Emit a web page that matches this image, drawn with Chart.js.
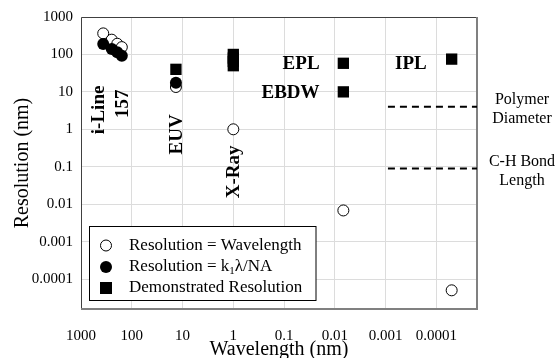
<!DOCTYPE html>
<html>
<head>
<meta charset="utf-8">
<script src="https://cdn.jsdelivr.net/npm/chart.js@4/dist/chart.umd.min.js"></script>
<style>
  html, body { margin: 0; padding: 0; background: #fff; }
  #wrap { width: 555px; height: 358px; position: relative; }
</style>
</head>
<body>
<div id="wrap"><canvas id="c"></canvas></div>
<script>
// Lithography: wavelength (nm) against resolution (nm), log-log
const seriesNames = [
  'Resolution = Wavelength',
  'Resolution = k1λ/NA',
  'Demonstrated Resolution'
];
const wavelengthEqual = [365, 248, 193, 157, 13.5, 1, 0.0068, 0.00005];
const resolutionEqual = [365, 248, 193, 157, 13.5, 1, 0.0068, 0.00005];
const wavelengthK1 = [365, 248, 193, 157, 13.5];
const resolutionK1 = [190, 140, 115, 92, 17.5];
const wavelengthDemo = [13.5, 1, 1, 1, 1, 0.0068, 0.0068, 0.00005];
const resolutionDemo = [40, 100, 80, 65, 50, 58, 10, 75];
const polymerX = [0.0009, 0.0000158];
const polymerY = [4, 4];
const bondX = [0.0009, 0.0000158];
const bondY = [0.09, 0.09];
const tickValues = [1000, 100, 10, 1, 0.1, 0.01, 0.001, 0.0001];
const tickLabels = ['1000', '100', '10', '1', '0.1', '0.01', '0.001', '0.0001'];

const SERIF = '"Liberation Serif", "Times New Roman", serif';
const axisMin = Math.pow(10, -4.8);
const axisMax = 1000;

const pts = (xs, ys) => xs.map((x, i) => ({ x: x, y: ys[i] }));

// Technique names placed in data coordinates
const techLabels = [
  { text: 'i-Line', x: 470, y: 3.3, rotate: true },
  { text: '157', x: 156, y: 4.8, rotate: true },
  { text: 'EUV', x: 13.5, y: 0.73, rotate: true },
  { text: 'X-Ray', x: 1, y: 0.073, rotate: true },
  { text: 'EPL', x: 0.02, y: 58, align: 'right' },
  { text: 'EBDW', x: 0.02, y: 10, align: 'right' },
  { text: 'IPL', x: 0.000155, y: 58, align: 'right' }
];
const sideNotes = [
  { lines: ['Polymer', 'Diameter'], y: 4 },
  { lines: ['C-H Bond', 'Length'], y: 0.09 }
];

const tickLabelFor = (v) => {
  const i = tickValues.findIndex(t => Math.abs(Math.log10(t) - Math.log10(v)) < 1e-6);
  return i >= 0 ? tickLabels[i] : '';
};

const decorations = {
  id: 'decorations',
  beforeDatasetsDraw(chart) {
    const { ctx, chartArea: a } = chart;
    ctx.save();
    ctx.lineCap = 'butt';
    ctx.strokeStyle = '#404040';
    ctx.lineWidth = 1;
    ctx.beginPath();
    ctx.moveTo(a.left + 0.5, a.bottom);
    ctx.lineTo(a.left + 0.5, a.top + 0.5);
    ctx.lineTo(a.right, a.top + 0.5);
    ctx.stroke();
    ctx.strokeStyle = '#808080';
    ctx.lineWidth = 2;
    ctx.beginPath();
    ctx.moveTo(a.left, a.bottom);
    ctx.lineTo(a.right, a.bottom);
    ctx.lineTo(a.right, a.top);
    ctx.stroke();
    ctx.restore();
  },
  afterDatasetsDraw(chart) {
    const { ctx, chartArea: a } = chart;
    const xs = chart.scales.x, ys = chart.scales.y;
    ctx.save();
    ctx.fillStyle = '#000';
    ctx.font = 'bold 19px ' + SERIF;
    techLabels.forEach(l => {
      const px = xs.getPixelForValue(l.x);
      const py = ys.getPixelForValue(l.y);
      ctx.save();
      ctx.translate(px, py);
      if (l.rotate) {
        ctx.rotate(-Math.PI / 2);
        ctx.textAlign = 'center';
      } else {
        ctx.textAlign = l.align || 'center';
      }
      ctx.textBaseline = 'middle';
      ctx.fillText(l.text, 0, 1);
      ctx.restore();
    });

    ctx.font = '16px ' + SERIF;
    ctx.textAlign = 'center';
    ctx.textBaseline = 'middle';
    sideNotes.forEach(n => {
      const py = ys.getPixelForValue(n.y);
      n.lines.forEach((t, i) => ctx.fillText(t, a.right + 45, py - 7 + i * 19));
    });

    // legend box in the lower-left corner of the plot
    const bx = a.left + 8.5, bw = 226.5, bh = 74;
    const by = a.bottom - 8.5 - bh;
    ctx.fillStyle = '#fff';
    ctx.fillRect(bx, by, bw, bh);
    ctx.strokeStyle = '#000';
    ctx.lineWidth = 1;
    ctx.strokeRect(bx, by, bw, bh);
    const mx = bx + 16.5, tx = bx + 39.5;
    const rowY = [by + 19, by + 40.5, by + 61.5];
    ctx.lineWidth = 1;
    ctx.beginPath(); ctx.arc(mx, rowY[0], 5.5, 0, Math.PI * 2);
    ctx.fillStyle = '#fff'; ctx.fill(); ctx.strokeStyle = '#000'; ctx.stroke();
    ctx.beginPath(); ctx.arc(mx, rowY[1], 6, 0, Math.PI * 2);
    ctx.fillStyle = '#000'; ctx.fill();
    ctx.fillRect(mx - 6, rowY[2] - 6, 12, 12);

    ctx.fillStyle = '#000';
    ctx.textAlign = 'left';
    ctx.textBaseline = 'middle';
    ctx.font = '17px ' + SERIF;
    ctx.fillText(seriesNames[0], tx, rowY[0]);
    // k with subscript 1
    const head = 'Resolution = k';
    ctx.fillText(head, tx, rowY[1]);
    let cx = tx + ctx.measureText(head).width;
    ctx.font = '11px ' + SERIF;
    ctx.fillText('1', cx, rowY[1] + 4);
    cx += ctx.measureText('1').width;
    ctx.font = '17px ' + SERIF;
    ctx.fillText('λ/NA', cx, rowY[1]);
    ctx.fillText(seriesNames[2], tx, rowY[2]);
    ctx.restore();
  }
};

const gridColor = '#dcdcdc';

new Chart(document.getElementById('c'), {
  type: 'scatter',
  data: {
    datasets: [
      {
        label: seriesNames[2],
        data: pts(wavelengthDemo, resolutionDemo),
        pointStyle: 'rect',
        pointRadius: 8,
        backgroundColor: '#000',
        borderColor: '#000',
        borderWidth: 0,
        order: 0
      },
      {
        label: seriesNames[1],
        data: pts(wavelengthK1, resolutionK1),
        pointStyle: 'circle',
        pointRadius: 6,
        backgroundColor: '#000',
        borderColor: '#000',
        borderWidth: 0,
        order: 1
      },
      {
        label: seriesNames[0],
        data: pts(wavelengthEqual, resolutionEqual),
        pointStyle: 'circle',
        pointRadius: 5.5,
        backgroundColor: '#fff',
        borderColor: '#000',
        borderWidth: 1,
        order: 2
      },
      {
        label: 'Polymer Diameter',
        type: 'line',
        data: pts(polymerX, polymerY),
        borderColor: '#000',
        borderWidth: 2,
        borderDash: [7, 5],
        pointRadius: 0,
        showLine: true,
        fill: false,
        order: 3
      },
      {
        label: 'C-H Bond Length',
        type: 'line',
        data: pts(bondX, bondY),
        borderColor: '#000',
        borderWidth: 2,
        borderDash: [7, 5],
        pointRadius: 0,
        showLine: true,
        fill: false,
        order: 3
      }
    ]
  },
  options: {
    responsive: true,
    maintainAspectRatio: false,
    animation: false,
    events: [],
    layout: { padding: { left: 0, right: 78, top: 13, bottom: 0 } },
    plugins: { legend: { display: false }, tooltip: { enabled: false } },
    scales: {
      x: {
        type: 'logarithmic',
        position: 'bottom',
        reverse: true,
        min: axisMin,
        max: axisMax,
        afterBuildTicks: (s) => { s.ticks = tickValues.map(v => ({ value: v })); },
        afterFit: (s) => { s.height = 49; },
        grid: { color: gridColor, lineWidth: 1, drawTicks: false },
        border: { display: false },
        ticks: {
          autoSkip: false,
          maxRotation: 0,
          padding: 18,
          color: '#000',
          font: { family: SERIF, size: 15 },
          callback: (v) => tickLabelFor(v)
        },
        title: {
          display: true,
          text: 'Wavelength (nm)',
          color: '#000',
          font: { family: SERIF, size: 20 },
          padding: { top: 0, bottom: -4 }
        }
      },
      y: {
        type: 'logarithmic',
        position: 'left',
        min: axisMin,
        max: axisMax,
        afterBuildTicks: (s) => { s.ticks = tickValues.map(v => ({ value: v })); },
        afterFit: (s) => { s.width = 81; },
        grid: { color: gridColor, lineWidth: 1, drawTicks: false },
        border: { display: false },
        ticks: {
          autoSkip: false,
          padding: 8,
          color: '#000',
          font: { family: SERIF, size: 15 },
          callback: (v) => tickLabelFor(v)
        },
        title: {
          display: true,
          text: 'Resolution (nm)',
          color: '#000',
          font: { family: SERIF, size: 20 },
          padding: { top: 11, bottom: 0 }
        }
      }
    }
  },
  plugins: [decorations]
});
</script>
</body>
</html>
